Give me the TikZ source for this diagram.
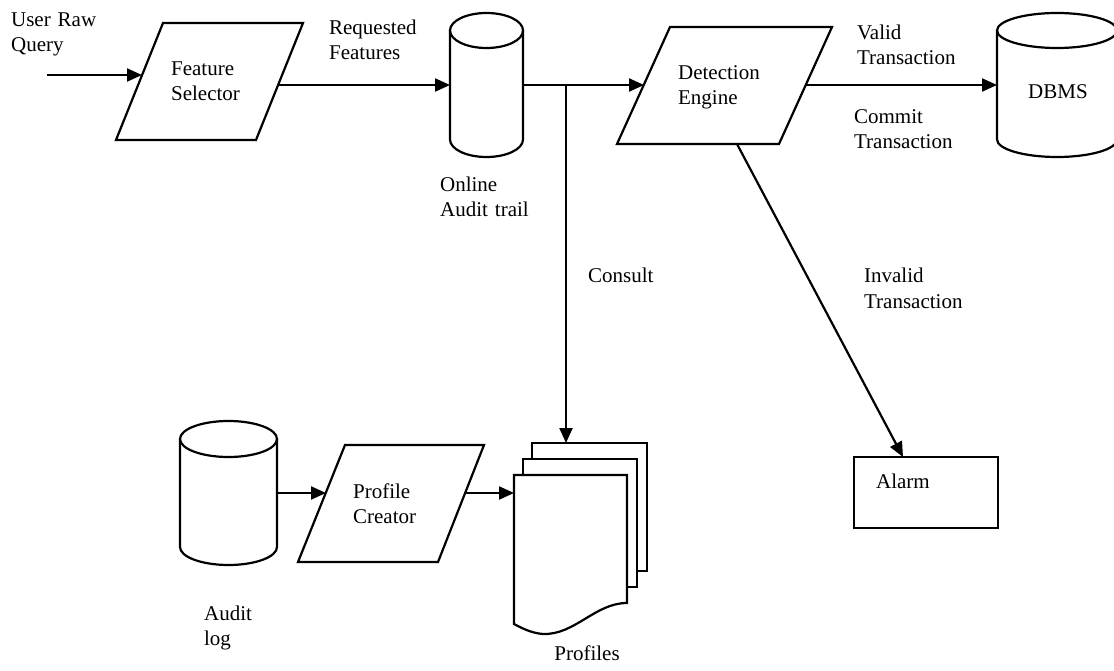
\documentclass[tikz,border=0pt]{standalone}
\usepackage{fontspec}
\setmainfont{Liberation Serif}
\usetikzlibrary{arrows.meta}

\begin{document}
\begin{tikzpicture}[x=1pt, y=-1pt,
  line width=2.2pt, line join=miter,
  flow/.style={-{Triangle[length=15pt,width=13pt]}},
  lbl/.style={inner sep=0pt, anchor=base west, align=left, text width=160pt,
              font=\fontsize{21}{25}\selectfont},
  clbl/.style={inner sep=0pt, anchor=base, font=\fontsize{21}{25}\selectfont}]
\useasboundingbox (0,0) rectangle (1114,671);

% ---- Feature selector (parallelogram)
\draw (163,23) -- (303,23) -- (256,140) -- (116,140) -- cycle;
\coordinate (fsIn)  at (142,75);
\coordinate (fsOut) at (278,85);
\node[lbl] (fsTxt) at (170,76) {Feature\\Selector};

% ---- Online audit trail (cylinder)
\draw (450,30.5) -- (450,139.5) arc (180:0:36.5 and 17.5) -- (523,30.5);
\draw (486.5,30.5) ellipse (36.5 and 17.5);
\coordinate (otIn)  at (450,85);
\coordinate (otOut) at (523,85);
\node[lbl] (otTxt) at (439,192) {Online\\Audit trail};

% ---- Detection engine (parallelogram)
\draw (670,27) -- (832,27) -- (779,144) -- (617,144) -- cycle;
\coordinate (deIn)  at (644,85);
\coordinate (deOut) at (806,85);
\coordinate (deBot) at (737,144);
\node[lbl] (deTxt) at (677,80) {Detection\\Engine};

% ---- DBMS (cylinder)
\draw (997,30.5) -- (997,139.5) arc (180:0:60 and 17.5) -- (1117,30.5);
\draw (1057,30.5) ellipse (60 and 17.5);
\coordinate (dbIn) at (997,85);
\node[clbl] (dbTxt) at (1058,99) {DBMS};

% ---- Alarm
\draw (854,457) rectangle (998,528);
\coordinate (alIn) at (903,457);
\node[lbl] (alTxt) at (875,488) {Alarm};

% ---- Audit log (cylinder)
\draw (180,439) -- (180,547) arc (180:0:48.5 and 18) -- (277,439);
\draw (228.5,439) ellipse (48.5 and 18);
\coordinate (alogOut) at (277,493);
\node[lbl] (alogTxt) at (203,620) {Audit\\log};

% ---- Profile creator (parallelogram)
\draw (345,445) -- (484,445) -- (438,562) -- (298,562) -- cycle;
\coordinate (pcIn)  at (326,493);
\coordinate (pcOut) at (465,493);
\node[lbl] (pcTxt) at (352,498) {Profile\\Creator};

% ---- Profiles (stack of documents)
\draw (532,459) -- (532,443) -- (647,443) -- (647,571) -- (637,571);
\draw (523,475) -- (523,459) -- (637,459) -- (637,587) -- (627,587);
\draw (514,475) -- (627,475) -- (627,603)
      .. controls (595,603) and (575,635) .. (543,634)
      .. controls (530,633) and (520,627) .. (514,624) -- cycle;
\coordinate (prIn)  at (514,493);
\coordinate (prTop) at (566,443);
\node[clbl] (prTxt) at (587,660) {Profiles};

% ---- Connectors
\coordinate (rawStart) at (47,75);
\coordinate (split) at (566,85);
\draw[flow] (rawStart) -- (fsIn);
\draw[flow] (fsOut) -- (otIn);
\draw[flow] (otOut) -- (deIn);
\draw[flow] (split) -- (prTop);
\draw[flow] (deOut) -- (dbIn);
\draw[flow] (deBot) -- (alIn);
\draw[flow] (alogOut) -- (pcIn);
\draw[flow] (pcOut) -- (prIn);

% ---- Connector labels
\node[lbl] (rawTxt) at (10,27) {User Raw\\Query};
\node[lbl] (reqTxt) at (328,35) {Requested\\Features};
\node[lbl] (conTxt) at (587,283) {Consult};
\node[lbl] (valTxt) at (856,40) {Valid\\Transaction};
\node[lbl] (comTxt) at (853,124) {Commit\\Transaction};
\node[lbl] (invTxt) at (863,283) {Invalid\\Transaction};
\end{tikzpicture}
\end{document}
